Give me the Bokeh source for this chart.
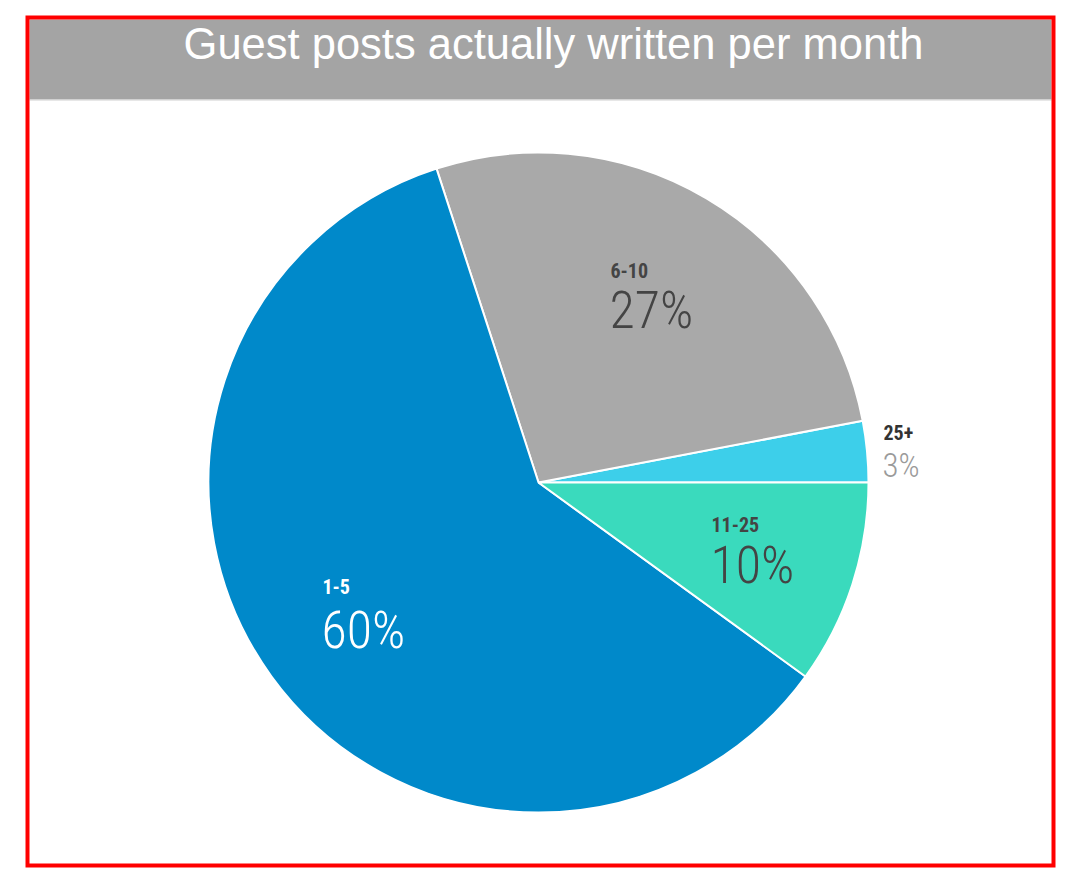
import math
from bokeh.plotting import figure
from bokeh.models import Range1d, ColumnDataSource
from bokeh.core.properties import value
from bokeh.embed import file_html
from bokeh.resources import INLINE

title = "Guest posts actually written per month"
categories = ["25+", "6-10", "1-5", "11-25"]
percents = [3, 27, 60, 10]
colors = ["#3DCFEA", "#A9A9A9", "#0089CA", "#3ADABD"]
cat_colors = ["#333333", "#444444", "#FFFFFF", "#444444"]
pct_colors = ["#9A9A9A", "#444444", "#FFFFFF", "#444444"]

W, H = 1060, 870
TOP = 878  # data y = TOP - screen y

p = figure(width=W, height=H, output_backend="svg", toolbar_location=None,
           x_range=Range1d(0, W), y_range=Range1d(TOP - H, TOP),
           min_border=0)
p.axis.visible = False
p.grid.visible = False
p.outline_line_color = None
p.background_fill_color = "white"

# header bar
p.quad(left=[29], right=[1051], top=[TOP - 19], bottom=[TOP - 99],
       fill_color="#A4A4A4", line_color=None)
p.segment(x0=[29], x1=[1051], y0=[TOP - 99.5], y1=[TOP - 99.5], line_color="#D0D0D0", line_width=1)
p.text(x=[553], y=[TOP - 43], text=[title], text_color="white",
       text_font=value("Liberation Sans"), text_font_size="43.5px",
       text_align="center", text_baseline="middle")

# pie
cx, cy, r = 538, TOP - 482, 330
total = sum(percents)
starts, ends = [], []
acc = 0.0
for v in percents:
    starts.append(2 * math.pi * acc / total)
    acc += v
    ends.append(2 * math.pi * acc / total)
src = ColumnDataSource(dict(start=starts, end=ends, color=colors))
p.wedge(x=cx, y=cy, radius=r, start_angle="start", end_angle="end",
        fill_color="color", line_color="white", line_width=2, source=src)

# labels
lab_x = [883, 610, 322, 711]
lab_y = [432, 270, 586, 524]
pct_y = [465, 310, 630, 565]
cat_font = value("Roboto Condensed, Roboto")
pct_font = value("Roboto Condensed Light, Roboto Light, Roboto")
for i in range(4):
    p.text(x=[lab_x[i]], y=[TOP - lab_y[i]], text=[categories[i]], text_color=cat_colors[i],
           text_font=cat_font, text_font_style="bold", text_font_size="20px",
           text_align="left", text_baseline="middle")
    p.text(x=[lab_x[i] - 1], y=[TOP - pct_y[i]], text=[f"{percents[i]}%"], text_color=pct_colors[i],
           text_font=pct_font, text_font_size="52px" if i else "33px",
           text_align="left", text_baseline="middle")

# red frame
p.quad(left=[27], right=[1053], top=[TOP - 17], bottom=[TOP - 865],
       fill_color=None, line_color="#FF0000", line_width=4, line_join="miter")

open("out.html", "w").write(file_html(p, INLINE))
